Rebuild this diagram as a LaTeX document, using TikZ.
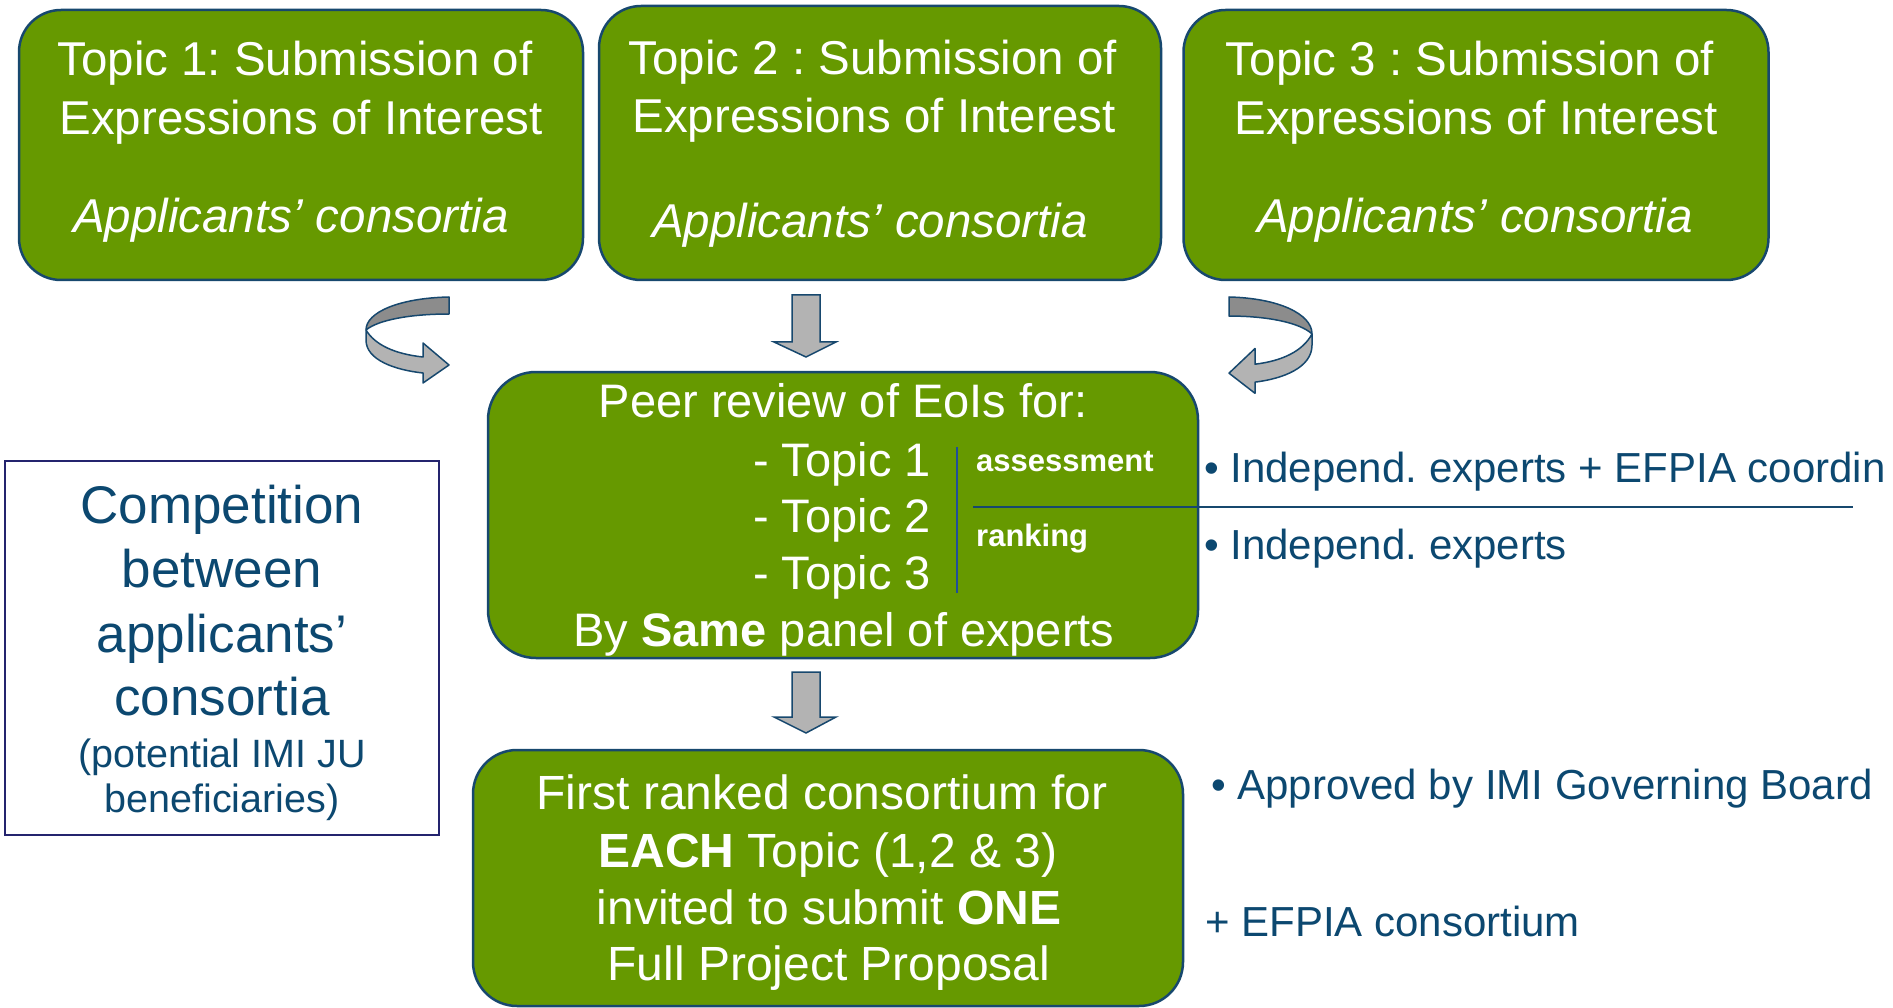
\documentclass[tikz,border=0pt]{standalone}
\usepackage{fontspec}
\setmainfont{Liberation Sans}
\frenchspacing
\definecolor{grn}{HTML}{669900}
\definecolor{bdr}{HTML}{17486E}
\definecolor{txtb}{HTML}{0C4870}
\definecolor{navybox}{HTML}{24246E}
\definecolor{gdark}{HTML}{8C8C8C}
\definecolor{glight}{HTML}{B3B3B3}
\definecolor{vline}{HTML}{1F4E9A}
\newcommand{\curvedarrowshape}{%
  \draw[draw=bdr,line width=1.5pt,fill=gdark,line join=round]
    (0,0) .. controls (-49,1) and (-83,15) .. (-83,33)
    .. controls (-71,23) and (-39,17) .. (0,17) -- cycle;
  \draw[draw=bdr,line width=1.5pt,fill=glight,line join=round]
    (-83,33) -- (-83,43) .. controls (-83,63) and (-54,73) .. (-26,76)
    -- (-26,86) -- (0,68) -- (-26,46) -- (-26,60)
    .. controls (-54,57) and (-74,48) .. (-83,33) -- cycle;
}
\begin{document}
\frenchspacing
\begin{tikzpicture}[x=1pt,y=-1pt,
  gbox/.style={draw=bdr,line width=2.5pt,fill=grn,inner sep=0pt},
  wt/.style={text=white,anchor=base,inner sep=0pt,font=\fontsize{47.5}{57}\selectfont},
  wc/.style={text=white,anchor=base,inner sep=0pt,font=\fontsize{47}{56}\selectfont},
  wcl/.style={wc,anchor=base west},
  wsm/.style={text=white,anchor=base west,inner sep=0pt,font=\fontsize{31}{37}\selectfont\bfseries},
  wb/.style={text=white,anchor=base,inner sep=0pt,font=\fontsize{48}{57}\selectfont},
  bt/.style={text=txtb,anchor=base west,inner sep=0pt,font=\fontsize{42}{50}\selectfont},
  lt/.style={text=txtb,anchor=base,inner sep=0pt,font=\fontsize{53}{63}\selectfont},
  lts/.style={text=txtb,anchor=base,inner sep=0pt,font=\fontsize{39.5}{47}\selectfont},
  blockarrow/.style={draw=bdr,line width=1.5pt,fill=glight,line join=miter}
]
\useasboundingbox (0,0) rectangle (1893,1008);

% top boxes
\node[gbox,rounded corners=42pt,minimum width=564pt,minimum height=270pt] (b1) at (301,145) {};
\node[gbox,rounded corners=42pt,minimum width=562pt,minimum height=274pt] (b2) at (880,143) {};
\node[gbox,rounded corners=42pt,minimum width=585pt,minimum height=270pt] (b3) at (1476,145) {};

\node[wt] (b1a) at (295,76) {Topic 1: Submission of};
\node[wt] (b1b) at (301,135) {Expressions of Interest};
\node[wt] (b1c) at (291,233) {\itshape Applicants’ consortia};

\node[wt] (b2a) at (873,75) {Topic 2 : Submission of};
\node[wt] (b2b) at (874,133) {Expressions of Interest};
\node[wt] (b2c) at (870,238) {\itshape Applicants’ consortia};

\node[wt] (b3a) at (1470,76) {Topic 3 : Submission of};
\node[wt] (b3b) at (1476,135) {Expressions of Interest};
\node[wt] (b3c) at (1475,233) {\itshape Applicants’ consortia};

% curved arrows
\begin{scope}[shift={(449,297)}]
  \curvedarrowshape
\end{scope}
\begin{scope}[shift={(1229,297)},xscale=-1,yscale=1.12]
  \curvedarrowshape
\end{scope}

% down arrow 1
\draw[blockarrow] (792,295) -- (820,295) -- (820,342) -- (836,342) -- (806,357)
  -- (774,342) -- (792,342) -- cycle;

% center box
\node[gbox,rounded corners=48pt,minimum width=710pt,minimum height=286pt] (rev) at (843,515) {};
\node[wc] (rev1) at (843,417) {Peer review of EoIs for:};
\node[wcl] (t1) at (753,476) {- Topic 1};
\node[wcl] (t2) at (753,532) {- Topic 2};
\node[wcl] (t3) at (753,589) {- Topic 3};
\node[wc] (rev2) at (844,646) {By \textbf{Same} panel of experts};
\coordinate (vl1) at (957,447);
\coordinate (vl2) at (957,593);
\draw[vline,line width=2pt] (vl1) -- (vl2);
\node[wsm] (ass) at (976,471) {assessment};
\node[wsm] (rnk) at (976,546) {ranking};
\coordinate (hl1) at (973,507);
\coordinate (hl2) at (1853,507);
\draw[bdr,line width=2pt] (hl1) -- (hl2);

% right texts
\node[bt] (r1) at (1204,482) {• Independ. experts + EFPIA coordin};
\node[bt] (r2) at (1204,559) {• Independ. experts};
\node[bt] (r3) at (1211,799) {• Approved by IMI Governing Board};
\node[bt] (r4) at (1205,936) {+ EFPIA consortium};

% down arrow 2
\draw[blockarrow] (792,672) -- (820,672) -- (820,717) -- (836,717) -- (806,733)
  -- (774,717) -- (792,717) -- cycle;

% bottom box
\node[gbox,rounded corners=44pt,minimum width=710pt,minimum height=256pt] (fin) at (828,878) {};
\node[wb] (f1) at (822,809) {First ranked consortium for};
\node[wb] (f2) at (828,867) {\textbf{EACH} Topic (1,2 \& 3)};
\node[wb] (f3) at (829,924) {invited to submit \textbf{ONE}};
\node[wb] (f4) at (829,980) {Full Project Proposal};

% left box
\node[draw=navybox,line width=2pt,fill=white,minimum width=434pt,minimum height=374pt,inner sep=0pt] (comp) at (222,648) {};
\node[lt] (c1) at (222,523) {Competition};
\node[lt] (c2) at (222,587) {between};
\node[lt] (c3) at (222,652) {applicants’};
\node[lt] (c4) at (222,715) {consortia};
\node[lts] (c5) at (222,767) {(potential IMI JU};
\node[lts] (c6) at (222,812) {beneficiaries)};
\end{tikzpicture}
\end{document}
